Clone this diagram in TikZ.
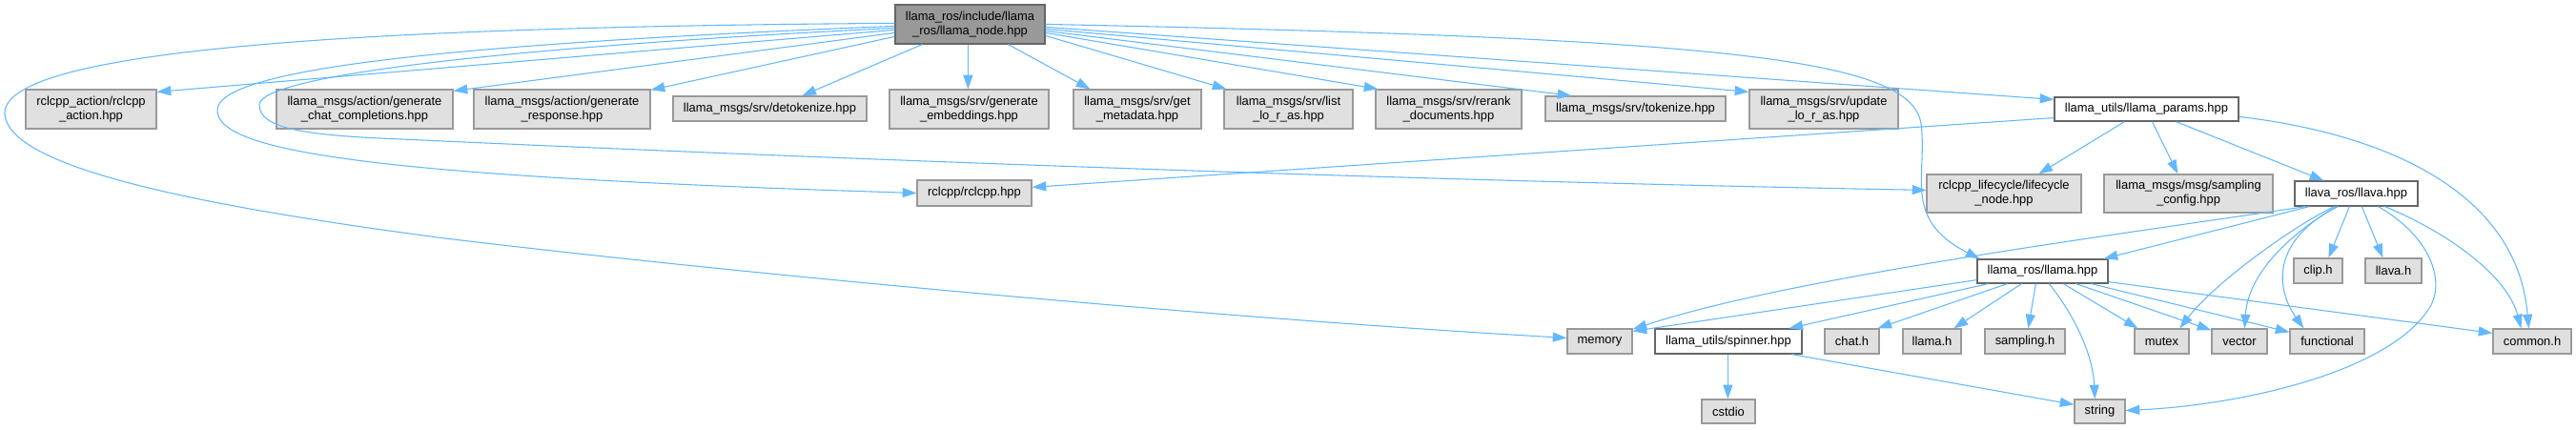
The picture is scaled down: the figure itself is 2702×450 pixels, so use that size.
\documentclass[tikz,border=0pt]{standalone}
\usepackage{fontspec}
\setmainfont{Liberation Sans}
\usetikzlibrary{arrows.meta}
\definecolor{edgec}{HTML}{63B8FF}
\definecolor{gfill}{HTML}{E0E0E0}
\definecolor{gline}{HTML}{999999}
\definecolor{rootfill}{HTML}{999999}
\definecolor{dline}{HTML}{666666}
\tikzset{
 box/.style={rectangle, inner sep=0pt, align=center, font=\fontsize{9.7}{11.25}\selectfont, line width=0.9pt},
 gbox/.style={box, fill=gfill, draw=gline},
 wbox/.style={box, fill=white, draw=dline},
 rbox/.style={box, fill=rootfill, draw=dline},
 arr/.style={draw=edgec, line width=0.8pt, -{Triangle[length=11pt,width=7.5pt]}},
}
\newcommand{\bx}[7]{\node[#1, minimum width={(#5-#3)*0.75pt}, minimum height={(#6-#4)*0.75pt}] (#2) at ({(#3+#5)/2},{(#4+#6)/2}) {#7};}
\begin{document}
\begin{tikzpicture}[x=0.75pt,y=-0.75pt]
\fill[white] (0,0) rectangle (2702,450);
\useasboundingbox (0,0) rectangle (2702,450);
% nodes
\bx{rbox}{root}{939}{5}{1096}{46}{llama\_ros/include/llama\\\_ros/llama\_node.hpp}
\bx{gbox}{ra}{27}{94}{164}{135}{rclcpp\_action/rclcpp\\\_action.hpp}
\bx{gbox}{gc}{290}{94}{475}{135}{llama\_msgs/action/generate\\\_chat\_completions.hpp}
\bx{gbox}{gr}{497}{94}{682}{135}{llama\_msgs/action/generate\\\_response.hpp}
\bx{gbox}{dt}{706}{101}{909}{127}{llama\_msgs/srv/detokenize.hpp}
\bx{gbox}{ge}{933}{94}{1100}{135}{llama\_msgs/srv/generate\\\_embeddings.hpp}
\bx{gbox}{gm}{1126}{94}{1260}{135}{llama\_msgs/srv/get\\\_metadata.hpp}
\bx{gbox}{ll}{1284}{94}{1419}{135}{llama\_msgs/srv/list\\\_lo\_r\_as.hpp}
\bx{gbox}{rr}{1443}{94}{1596}{135}{llama\_msgs/srv/rerank\\\_documents.hpp}
\bx{gbox}{tk}{1621}{101}{1810}{127}{llama\_msgs/srv/tokenize.hpp}
\bx{gbox}{ul}{1835}{94}{1991}{135}{llama\_msgs/srv/update\\\_lo\_r\_as.hpp}
\bx{wbox}{lp}{2155}{102}{2348}{127}{llama\_utils/llama\_params.hpp}
\bx{gbox}{rc}{962}{189}{1082}{216}{rclcpp/rclcpp.hpp}
\bx{gbox}{lc}{2021}{183}{2183}{223}{rclcpp\_lifecycle/lifecycle\\\_node.hpp}
\bx{gbox}{sc}{2207}{183}{2384}{223}{llama\_msgs/msg/sampling\\\_config.hpp}
\bx{wbox}{lv}{2407}{190}{2536}{216}{llava\_ros/llava.hpp}
\bx{wbox}{la}{2074}{272}{2211}{297}{llama\_ros/llama.hpp}
\bx{gbox}{ch}{2406}{271}{2457}{297}{clip.h}
\bx{gbox}{lh}{2481}{271}{2540}{297}{llava.h}
\bx{gbox}{me}{1644}{345}{1712}{371}{memory}
\bx{wbox}{sp}{1736}{345}{1890}{371}{llama\_utils/spinner.hpp}
\bx{gbox}{ct}{1914}{345}{1971}{371}{chat.h}
\bx{gbox}{lm}{1996}{345}{2057}{371}{llama.h}
\bx{gbox}{sa}{2082}{345}{2166}{371}{sampling.h}
\bx{gbox}{mu}{2239}{345}{2296}{371}{mutex}
\bx{gbox}{ve}{2320}{345}{2378}{371}{vector}
\bx{gbox}{fu}{2402}{345}{2480}{371}{functional}
\bx{gbox}{co}{2615}{345}{2697}{371}{common.h}
\bx{gbox}{cs}{1785}{419}{1841}{444}{cstdio}
\bx{gbox}{st}{2176}{419}{2229}{444}{string}
% root edges
\draw[arr] ([shift={(0,20)}]root.north west) .. controls (400,28) and (0,50) .. (5,120) .. controls (10,175) and (200,215) .. (467,250) .. controls (800,290) and (1300,335) .. ([shift={(0,10)}]me.north west);
\draw[arr] ([shift={(0,23)}]root.north west) .. controls (500,45) and (230,70) .. (228,115) .. controls (226,160) and (400,185) .. (rc.west);
\draw[arr] ([shift={(0,25)}]root.north west) .. controls (520,50) and (272,80) .. (272,110) .. controls (272,135) and (320,142) .. (421,146) .. controls (900,168) and (1500,190) .. ([shift={(0,17)}]lc.north west);
\draw[arr] ([shift={(0,27)}]root.north west) -- ([shift={(0,3)}]ra.north east);
\draw[arr] ([shift={(0,30)}]root.north west) -- ([shift={(0,2)}]gc.north east);
\draw[arr] ([shift={(0,34)}]root.north west) -- ([shift={(0,1)}]gr.north east);
\draw[arr] ([shift={(29,0)}]root.south west) -- ([shift={(136,0)}]dt.north west);
\draw[arr] ([shift={(77,0)}]root.south west) -- ([shift={(83,0)}]ge.north west);
\draw[arr] ([shift={(119,0)}]root.south west) -- ([shift={(18,0)}]gm.north west);
\draw[arr] ([shift={(0,33)}]root.north east) -- ([shift={(3,0)}]ll.north west);
\draw[arr] ([shift={(0,30)}]root.north east) -- ([shift={(3,0)}]rr.north west);
\draw[arr] ([shift={(0,28)}]root.north east) -- ([shift={(28,0)}]tk.north west);
\draw[arr] ([shift={(0,26)}]root.north east) -- ([shift={(0,3)}]ul.north west);
\draw[arr] ([shift={(0,24)}]root.north east) -- ([shift={(0,3)}]lp.north west);
\draw[arr] ([shift={(0,21)}]root.north east) .. controls (1800,40) and (2005,60) .. (2015,130) .. controls (2022,185) and (1995,230) .. ([shift={(3,0)}]la.north west);
% llama_params edges
\draw[arr] ([shift={(0,-4)}]lp.south west) -- ([shift={(0,8)}]rc.north east);
\draw[arr] ([shift={(74,0)}]lp.south west) -- ([shift={(118,0)}]lc.north west);
\draw[arr] ([shift={(103,0)}]lp.south west) -- ([shift={(78,0)}]sc.north west);
\draw[arr] ([shift={(128,0)}]lp.south west) -- ([shift={(31,0)}]lv.north west);
\draw[arr] ([shift={(0,21)}]lp.north east) .. controls (2500,140) and (2640,200) .. ([shift={(38,0)}]co.north west);
% llava edges
\draw[arr] ([shift={(16,0)}]lv.south west) -- ([shift={(-5,0)}]la.north east);
\draw[arr] ([shift={(12,0)}]lv.south west) .. controls (2230,245) and (1880,290) .. ([shift={(0,1)}]me.north east);
\draw[arr] ([shift={(42,0)}]lv.south west) .. controls (2400,240) and (2320,300) .. ([shift={(48,0)}]mu.north west);
\draw[arr] ([shift={(44,0)}]lv.south west) .. controls (2395,250) and (2358,290) .. ([shift={(35,0)}]ve.north west);
\draw[arr] ([shift={(46,0)}]lv.south west) .. controls (2385,250) and (2385,300) .. ([shift={(15,0)}]fu.north west);
\draw[arr] ([shift={(58,0)}]lv.south west) -- ([shift={(37,0)}]ch.north west);
\draw[arr] ([shift={(71,0)}]lv.south west) -- ([shift={(19,0)}]lh.north west);
\draw[arr] ([shift={(88,0)}]lv.south west) .. controls (2545,245) and (2565,290) .. (2550,320) .. controls (2510,390) and (2350,425) .. ([shift={(0,-1)}]st.east);
\draw[arr] ([shift={(95,0)}]lv.south west) .. controls (2570,245) and (2630,290) .. ([shift={(30,0)}]co.north west);
% llama edges
\draw[arr] ([shift={(0,-4)}]la.south west) -- ([shift={(0,3)}]me.north east);
\draw[arr] ([shift={(12,0)}]la.south west) -- ([shift={(141,0)}]sp.north west);
\draw[arr] ([shift={(32,0)}]la.south west) -- ([shift={(56,0)}]ct.north west);
\draw[arr] ([shift={(47,0)}]la.south west) -- ([shift={(54,0)}]lm.north west);
\draw[arr] ([shift={(62,0)}]la.south west) -- ([shift={(46,0)}]sa.north west);
\draw[arr] ([shift={(76,0)}]la.south west) .. controls (2175,330) and (2195,370) .. ([shift={(22,0)}]st.north west);
\draw[arr] ([shift={(91,0)}]la.south west) -- ([shift={(4,0)}]mu.north west);
\draw[arr] ([shift={(104,0)}]la.south west) -- ([shift={(0,2)}]ve.north west);
\draw[arr] ([shift={(120,0)}]la.south west) -- ([shift={(0,4)}]fu.north west);
\draw[arr] ([shift={(0,-2)}]la.south east) -- ([shift={(0,5)}]co.north west);
% spinner edges
\draw[arr] ([shift={(77,0)}]sp.south west) -- ([shift={(28,0)}]cs.north west);
\draw[arr] ([shift={(144,0)}]sp.south west) -- ([shift={(0,6)}]st.north west);
\end{tikzpicture}
\end{document}
